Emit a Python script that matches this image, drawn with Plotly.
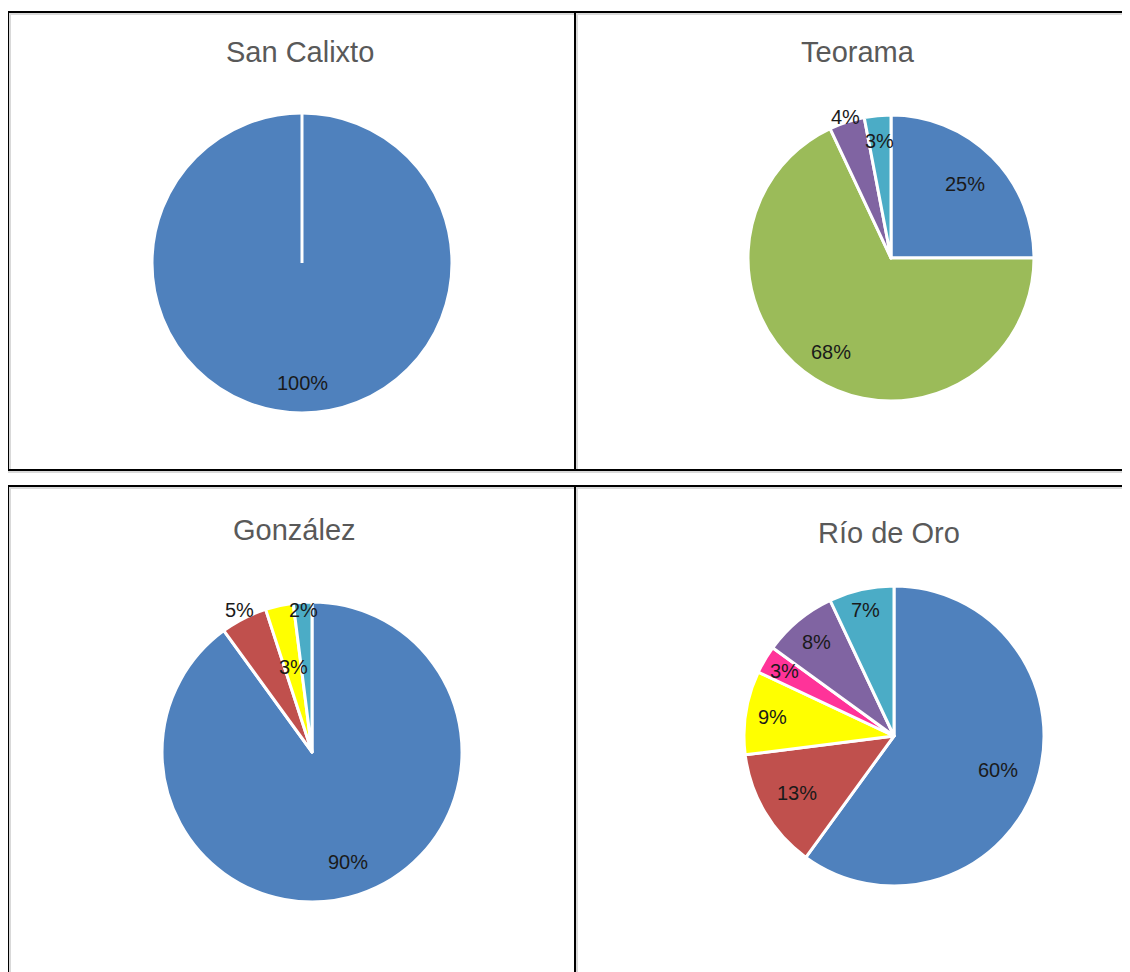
import math
import plotly.graph_objects as go

# ---------------------------------------------------------------------------
# Data
# ---------------------------------------------------------------------------
SAN_CALIXTO_VALUES = [100]
SAN_CALIXTO_COLORS = ['#4F81BD']

TEORAMA_VALUES = [25, 68, 4, 3]
TEORAMA_COLORS = ['#4F81BD', '#9BBB59', '#8064A2', '#4BACC6']

GONZALEZ_VALUES = [90, 5, 3, 2]
GONZALEZ_COLORS = ['#4F81BD', '#C0504D', '#FFFF00', '#4BACC6']

RIO_DE_ORO_VALUES = [60, 13, 9, 3, 8, 7]
RIO_DE_ORO_COLORS = ['#4F81BD', '#C0504D', '#FFFF00', '#FF3399', '#8064A2', '#4BACC6']

TITLES = ['San Calixto', 'Teorama', 'González', 'Río de Oro']

# ---------------------------------------------------------------------------
# Layout (pixel positions in the 1130x972 page; plotly div sits at 8,8)
# ---------------------------------------------------------------------------
W, H = 1130, 972
OX, OY = 8, 8
FONT = 'Liberation Sans, Arial, sans-serif'
LABEL_COLOR = '#1a1a1a'

PIE_GEOM = [(302, 263, 150), (891, 258, 143), (312, 752, 150), (894, 736, 150)]
TITLE_POS = [(300, 52), (858, 52), (294, 530), (889, 533)]
# label distance from centre, as a fraction of the radius (Excel "best fit")
LABEL_RADIUS = [
    [0.8],
    [0.73, 0.78, 1.04, 0.82],
    [0.77, 1.06, 0.58, 0.95],
    [0.73, 0.75, 0.82, 0.85, 0.81, 0.86],
]


def px(x):
    return (x - OX) / W


def py(y):
    return 1 - (y - OY) / H


def domain(cx, cy, r):
    return dict(x=[px(cx - r), px(cx + r)], y=[py(cy + r), py(cy - r)])


def label_annotations(values, geom, fracs):
    cx, cy, r = geom
    total = float(sum(values))
    out, start = [], 0.0
    for v, f in zip(values, fracs):
        mid = (start + v / 2) / total * 2 * math.pi
        start += v
        x = cx + f * r * math.sin(mid)
        y = cy - f * r * math.cos(mid)
        out.append(dict(text=f'{v}%', x=px(x), y=py(y), xref='paper', yref='paper',
                        showarrow=False, xanchor='center', yanchor='middle',
                        font=dict(family=FONT, size=20, color=LABEL_COLOR)))
    return out


series = [
    (SAN_CALIXTO_VALUES, SAN_CALIXTO_COLORS),
    (TEORAMA_VALUES, TEORAMA_COLORS),
    (GONZALEZ_VALUES, GONZALEZ_COLORS),
    (RIO_DE_ORO_VALUES, RIO_DE_ORO_COLORS),
]

fig = go.Figure()
annotations = []
for (values, colors), geom, fracs in zip(series, PIE_GEOM, LABEL_RADIUS):
    fig.add_trace(go.Pie(
        values=values,
        labels=[str(i) for i in range(len(values))],
        marker=dict(colors=colors, line=dict(color='white', width=3)),
        sort=False,
        direction='clockwise',
        rotation=0,
        textinfo='none',
        domain=domain(*geom),
        showlegend=False,
        hoverinfo='skip',
    ))
    annotations += label_annotations(values, geom, fracs)

shapes = []
# white seam at 12 o'clock of the single full slice
sc = PIE_GEOM[0]
shapes.append(dict(type='line', xref='paper', yref='paper',
                   x0=px(sc[0]), x1=px(sc[0]), y0=py(sc[1]), y1=py(sc[1] - sc[2]),
                   line=dict(color='white', width=3)))


def hline(x0, x1, y, color, w):
    shapes.append(dict(type='line', xref='paper', yref='paper',
                       x0=px(x0), x1=px(x1), y0=py(y), y1=py(y), line=dict(color=color, width=w)))


def vline(x, y0, y1, color, w):
    shapes.append(dict(type='line', xref='paper', yref='paper',
                       x0=px(x), x1=px(x), y0=py(y0), y1=py(y1), line=dict(color=color, width=w)))


# panel borders: grey shadow first, black line on top
for y in (14, 472, 488):
    hline(8, W + OX, y, '#d9d9d9', 2)
for x in (10, 577):
    vline(x, 12, 470, '#d9d9d9', 2)
    vline(x, 486, H + OY, '#d9d9d9', 2)
for y in (12, 470, 486):
    hline(7, W + OX, y, 'black', 2)
for x in (8, 575):
    vline(x, 12, 470, 'black', 2)
    vline(x, 486, H + OY, 'black', 2)

for t, (x, y) in zip(TITLES, TITLE_POS):
    annotations.append(dict(text=t, x=px(x), y=py(y), xref='paper', yref='paper',
                            showarrow=False, xanchor='center', yanchor='middle',
                            font=dict(family=FONT, size=29, color='#595959')))

fig.update_layout(
    width=W, height=H,
    margin=dict(l=0, r=0, t=0, b=0),
    paper_bgcolor='white',
    plot_bgcolor='white',
    shapes=shapes,
    annotations=annotations,
)

fig.write_html('out.html')
